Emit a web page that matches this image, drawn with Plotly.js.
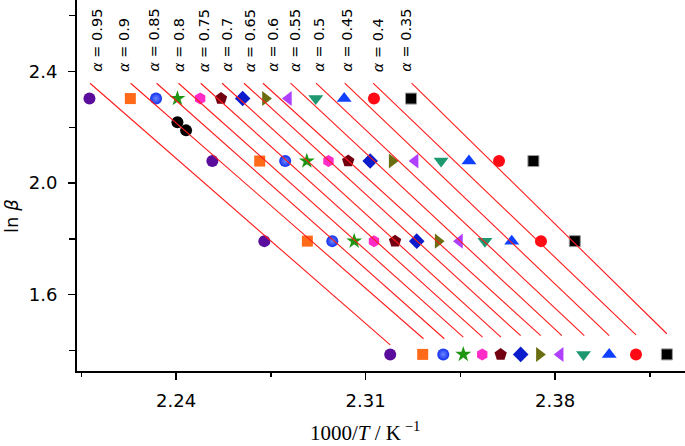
<!DOCTYPE html>
<html>
<head>
<meta charset="utf-8">
<script src="https://cdn.plot.ly/plotly-3.0.1.min.js"></script>
<style>html,body{margin:0;padding:0;background:#fff;}#chart{width:685px;height:446px;}</style>
</head>
<body>
<div id="chart"></div>
<script>
// ---- data ----
const alphas = ['0.95','0.9','0.85','0.8','0.75','0.7','0.65','0.6','0.55','0.5','0.45','0.4','0.35'];
const lnBeta = [2.303, 2.079, 1.792, 1.386];   // ln(10), ln(8), ln(6), ln(4)
// 1000/T for each alpha at each heating rate
const invT_b10 = [2.2080, 2.2231, 2.2326, 2.2405, 2.2489, 2.2566, 2.2646, 2.2730, 2.2815, 2.2916, 2.3021, 2.3131, 2.3268];
const invT_b8  = [2.2534, 2.2709, 2.2803, 2.2883, 2.2963, 2.3036, 2.3117, 2.3198, 2.3283, 2.3379, 2.3482, 2.3593, 2.3720];
const invT_b6  = [2.2726, 2.2885, 2.2977, 2.3058, 2.3131, 2.3209, 2.3289, 2.3368, 2.3447, 2.3541, 2.3640, 2.3748, 2.3873];
const invT_b4  = [2.3191, 2.3311, 2.3387, 2.3461, 2.3531, 2.3599, 2.3673, 2.3742, 2.3819, 2.3905, 2.4000, 2.4099, 2.4213];
// fitted lines: start and end points
const fitStartX = [2.2082, 2.2232, 2.2328, 2.2409, 2.2491, 2.2570, 2.2651, 2.2721, 2.2823, 2.2917, 2.3023, 2.3128, 2.3270];
const fitStartY = [2.358, 2.358, 2.358, 2.358, 2.358, 2.358, 2.358, 2.358, 2.358, 2.358, 2.358, 2.358, 2.358];
const fitEndX   = [2.3191, 2.3314, 2.3391, 2.3461, 2.3532, 2.3600, 2.3673, 2.3747, 2.3825, 2.3908, 2.4000, 2.4099, 2.4213];
const fitEndY   = [1.420, 1.442, 1.442, 1.448, 1.448, 1.448, 1.453, 1.453, 1.453, 1.453, 1.453, 1.456, 1.460];
// two extra black points
const extraX = [2.2405, 2.2437];
const extraY = [2.218, 2.189];

// ---- styles ----
const colors  = ['#5A0C9C','#FF6A18','#1030F0','#1E9612','#FF2CC8','#720010','#0A1CCC','#6A6E10','#B040FF','#1E9870','#1040FF','#FF0A14','#000000'];
const symbols = ['circle','square','circle','star','hexagon','pentagon','diamond','triangle-right','triangle-left','triangle-down','triangle-up','circle','square'];
const sizes   = [12, 11, 12, 12, 12, 13, 12, 13, 13, 13, 13, 12, 11];
const labelX  = [2.2110, 2.2205, 2.2319, 2.2408, 2.2503, 2.2588, 2.2673, 2.2758, 2.2842, 2.2928, 2.3033, 2.3144, 2.3251];

const SANS = 'DejaVu Sans, Liberation Sans, Arial, sans-serif';
const traces = [];
alphas.forEach((a, i) => {
  const m = {color: colors[i], symbol: symbols[i], size: sizes[i], line: {width: 0}};
  if (i === 2) m.gradient = {type: 'radial', color: '#6f86ff'};
  if (i === 12) m.line = {width: 1, color: '#9a9a9a'};
  traces.push({
    type: 'scatter', mode: 'markers', name: 'α = ' + a,
    x: [invT_b10[i], invT_b8[i], invT_b6[i], invT_b4[i]],
    y: lnBeta, marker: m, hoverinfo: 'x+y+name'
  });
});
traces.push({type:'scatter', mode:'markers', name:'extra', x: extraX, y: extraY,
  marker:{color:'#000', size:12, symbol:'circle'}});
alphas.forEach((a, i) => {
  traces.push({
    type: 'scatter', mode: 'lines', name: 'fit α = ' + a,
    x: [fitStartX[i], fitEndX[i]], y: [fitStartY[i], fitEndY[i]],
    line: {color: '#FF1A1A', width: 1.1}
  });
});

const annotations = alphas.map((a, i) => ({
  text: '<i>α</i> = ' + a, x: labelX[i], y: 2.392, xref: 'x', yref: 'y',
  xanchor: 'center', yanchor: 'bottom', textangle: -90, showarrow: false,
  font: {family: SANS, size: 14.5, color: '#000'}
}));
// axis titles
annotations.push({
  text: '1000/<i>T</i> / K<sup> −1</sup>', xref: 'paper', yref: 'paper',
  x: 0.4737, y: -0.162, xanchor: 'center', yanchor: 'middle', showarrow: false,
  font: {family: 'Liberation Serif, Times New Roman, serif', size: 21, color: '#000'}
});
annotations.push({
  text: 'ln <i>β</i>', xref: 'paper', yref: 'paper',
  x: -0.1069, y: 0.418, xanchor: 'center', yanchor: 'middle', textangle: -90, showarrow: false,
  font: {family: SANS, size: 18, color: '#000'}
});

const layout = {
  width: 685, height: 446,
  margin: {l: 77, r: 0, t: 0, b: 75},
  paper_bgcolor: '#fff', plot_bgcolor: '#fff',
  showlegend: false,
  font: {family: SANS, color: '#000'},
  xaxis: {
    range: [2.2034, 2.4280], tick0: 2.24, dtick: 0.07, tickformat: '.2f',
    ticks: 'outside', ticklen: 7, tickwidth: 1.5, tickcolor: '#000',
    minor: {tick0: 2.24, dtick: 0.035, ticks: 'outside', ticklen: 4, tickwidth: 1.5, tickcolor: '#000'},
    showline: true, linewidth: 2, linecolor: '#000', showgrid: false, zeroline: false,
    tickfont: {size: 18}, ticklabelstandoff: 5,
    automargin: false
  },
  yaxis: {
    range: [1.3265, 2.6563], tick0: 2.0, dtick: 0.4, tickformat: '.1f',
    ticks: 'outside', ticklen: 7, tickwidth: 1.5, tickcolor: '#000',
    minor: {tick0: 2.0, dtick: 0.2, ticks: 'outside', ticklen: 6, tickwidth: 1.5, tickcolor: '#000'},
    showline: true, linewidth: 2, linecolor: '#000', showgrid: false, zeroline: false,
    tickfont: {size: 18}, ticklabelstandoff: 7,
    automargin: false
  },
  annotations: annotations
};

Plotly.newPlot('chart', traces, layout, {staticPlot: true, displayModeBar: false});
</script>
</body>
</html>
